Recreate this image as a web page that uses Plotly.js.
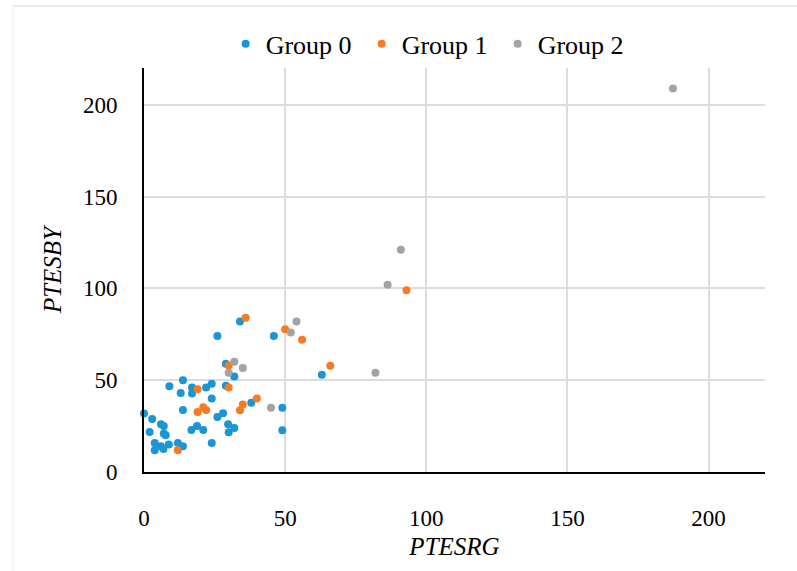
<!DOCTYPE html>
<html>
<head>
<meta charset="utf-8">
<script src="https://cdn.plot.ly/plotly-3.0.1.min.js"></script>
<style>html,body{margin:0;padding:0;background:#fff;}#chart{width:797px;height:571px;}</style>
</head>
<body>
<div id="chart"></div>
<script>
// Group 0 (blue)
const g0x = [34, 26, 46, 29, 32, 9, 13.8, 17, 17, 13, 22, 24, 29, 24, 38, 0, 2.9, 13.8, 28, 26, 6, 7, 2, 7, 7.7, 16.8, 18.8, 21, 29.8, 30, 32, 24, 3.8, 3.8, 6, 6.9, 8.8, 12, 13.8, 63, 49, 49];
const g0y = [82, 74, 74, 59, 52, 46.7, 50, 46, 42.7, 43, 46, 48, 47, 40, 37.7, 31.8, 28.8, 33.8, 32, 30, 26, 25, 21.8, 21, 20, 22.9, 25, 22.9, 26, 21.7, 24, 15.8, 15.8, 11.8, 14, 12.5, 15, 15.8, 14, 53, 35, 22.7];
// Group 1 (orange)
const g1x = [36, 30, 19, 30, 40, 35, 34, 21, 19, 22, 12, 50, 56, 66, 93];
const g1y = [84, 58, 45, 46, 40, 36.8, 33.6, 35.3, 32.7, 33.8, 11.8, 77.8, 72, 57.8, 99];
// Group 2 (gray)
const g2x = [32, 35, 30, 45, 54, 52, 82, 91, 86.3, 187.4];
const g2y = [60, 56.7, 54, 35, 82, 76, 54, 121, 102, 208.8];

const names = ["Group 0", "Group 1", "Group 2"];
const colors = ["#1a95d6", "#f77a25", "#a3a3a3"];
const font = "Liberation Serif, Times New Roman, serif";

function tr(x, y, i) {
  return {x: x, y: y, name: names[i], type: "scatter", mode: "markers",
    marker: {color: colors[i], size: 8, line: {width: 0}}, cliponaxis: false};
}

const data = [tr(g0x, g0y, 0), tr(g1x, g1y, 1), tr(g2x, g2y, 2)];

const axisCommon = {
  range: [0, 220], dtick: 50, tick0: 0, showgrid: true, gridcolor: "#dcdcdc", gridwidth: 2,
  zeroline: false, showline: true, linecolor: "#000", linewidth: 2, ticks: "",
  tickfont: {family: font, size: 23, color: "#000"}, fixedrange: true
};

const layout = {
  width: 797, height: 571,
  margin: {l: 144, r: 32, t: 68, b: 99},
  paper_bgcolor: "#fff", plot_bgcolor: "#fff",
  font: {family: font, color: "#000"},
  xaxis: Object.assign({}, axisCommon, {
    ticklabelstandoff: 24,
    title: {text: "<i>PTESRG</i>", font: {family: font, size: 25, color: "#000"}, standoff: 8}
  }),
  yaxis: Object.assign({}, axisCommon, {
    ticklabelstandoff: 20,
    title: {text: "<i>PTESBY</i>", font: {family: font, size: 25, color: "#000"}, standoff: 14}
  }),
  showlegend: true,
  legend: {orientation: "h", x: 0.46, xanchor: "center", y: 1.06, yanchor: "middle",
    font: {family: font, size: 26, color: "#000"}, itemwidth: 30, traceorder: "normal",
    entrywidth: 91, entrywidthmode: "pixels",
    bgcolor: "rgba(0,0,0,0)"},
  shapes: [
    {type: "line", xref: "paper", yref: "paper", x0: (13 - 144) / 621, x1: (797 - 144) / 621,
     y0: (472 - 6) / 404, y1: (472 - 6) / 404, line: {color: "#e3e3e3", width: 1.5}},
    {type: "line", xref: "paper", yref: "paper", x0: (13 - 144) / 621, x1: (13 - 144) / 621,
     y0: (472 - 6) / 404, y1: (472 - 571) / 404, line: {color: "#eeeeee", width: 1}}
  ]
};

Plotly.newPlot("chart", data, layout, {displayModeBar: false, staticPlot: true});
</script>
</body>
</html>
